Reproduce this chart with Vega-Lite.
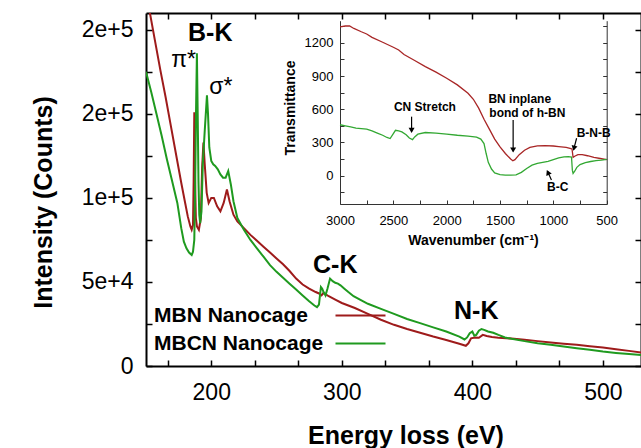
{
"$schema": "https://vega.github.io/schema/vega-lite/v6.json",
"width": 495, "height": 353,
"autosize": {"type": "none"},
"padding": {"left": 146, "top": 13, "right": 0, "bottom": 82},
"background": "white",
"config": {"font": "Liberation Sans", "view": {"stroke": null}, "axis": {"grid": false, "domainColor": "black", "tickColor": "black", "labelColor": "black", "titleColor": "black", "labelFlush": false, "labelOverlap": false}},
"resolve": {"scale": {"x": "independent", "y": "independent", "color": "independent"}, "axis": {"x": "independent", "y": "independent"}},
"layer": [
{
"data": {"values": [
{"s":"MBN Nanocage","E":150,"I":223000},{"s":"MBN Nanocage","E":153,"I":210000},{"s":"MBN Nanocage","E":157,"I":193000},{"s":"MBN Nanocage","E":161,"I":176000},{"s":"MBN Nanocage","E":165,"I":160000},{"s":"MBN Nanocage","E":169,"I":143000},{"s":"MBN Nanocage","E":173,"I":126000},{"s":"MBN Nanocage","E":177,"I":109000},{"s":"MBN Nanocage","E":180,"I":97000},{"s":"MBN Nanocage","E":182,"I":89000},{"s":"MBN Nanocage","E":184,"I":83000},{"s":"MBN Nanocage","E":185,"I":81000},{"s":"MBN Nanocage","E":186,"I":84000},{"s":"MBN Nanocage","E":186.5,"I":110000},{"s":"MBN Nanocage","E":187,"I":151000},{"s":"MBN Nanocage","E":187.6,"I":110000},{"s":"MBN Nanocage","E":188.2,"I":88000},{"s":"MBN Nanocage","E":189,"I":83000},{"s":"MBN Nanocage","E":190.5,"I":81000},{"s":"MBN Nanocage","E":192,"I":88000},{"s":"MBN Nanocage","E":193,"I":118000},{"s":"MBN Nanocage","E":194,"I":133000},{"s":"MBN Nanocage","E":195,"I":120000},{"s":"MBN Nanocage","E":196.5,"I":103000},{"s":"MBN Nanocage","E":198,"I":97000},{"s":"MBN Nanocage","E":200,"I":100000},{"s":"MBN Nanocage","E":202,"I":100000},{"s":"MBN Nanocage","E":204.5,"I":95000},{"s":"MBN Nanocage","E":207,"I":92000},{"s":"MBN Nanocage","E":209.5,"I":97000},{"s":"MBN Nanocage","E":212,"I":105000},{"s":"MBN Nanocage","E":214,"I":98000},{"s":"MBN Nanocage","E":217,"I":90000},{"s":"MBN Nanocage","E":220,"I":86000},{"s":"MBN Nanocage","E":225,"I":82000},{"s":"MBN Nanocage","E":230,"I":78000},{"s":"MBN Nanocage","E":235,"I":74500},{"s":"MBN Nanocage","E":240,"I":71000},{"s":"MBN Nanocage","E":245,"I":67500},{"s":"MBN Nanocage","E":250,"I":64000},{"s":"MBN Nanocage","E":255,"I":60500},{"s":"MBN Nanocage","E":260,"I":56500},{"s":"MBN Nanocage","E":265,"I":52000},{"s":"MBN Nanocage","E":270,"I":48500},{"s":"MBN Nanocage","E":275,"I":46000},{"s":"MBN Nanocage","E":280,"I":44000},{"s":"MBN Nanocage","E":283,"I":43000},{"s":"MBN Nanocage","E":284.5,"I":42000},{"s":"MBN Nanocage","E":286,"I":43500},{"s":"MBN Nanocage","E":290,"I":41500},{"s":"MBN Nanocage","E":295,"I":39500},{"s":"MBN Nanocage","E":300,"I":37500},{"s":"MBN Nanocage","E":310,"I":34500},{"s":"MBN Nanocage","E":320,"I":31000},{"s":"MBN Nanocage","E":330,"I":27500},{"s":"MBN Nanocage","E":340,"I":24500},{"s":"MBN Nanocage","E":350,"I":22000},{"s":"MBN Nanocage","E":360,"I":19800},{"s":"MBN Nanocage","E":370,"I":17500},{"s":"MBN Nanocage","E":380,"I":15500},{"s":"MBN Nanocage","E":390,"I":13200},{"s":"MBN Nanocage","E":395,"I":12000},{"s":"MBN Nanocage","E":397,"I":13500},{"s":"MBN Nanocage","E":399,"I":16500},{"s":"MBN Nanocage","E":402,"I":17000},{"s":"MBN Nanocage","E":405,"I":16800},{"s":"MBN Nanocage","E":408,"I":18500},{"s":"MBN Nanocage","E":411,"I":17800},{"s":"MBN Nanocage","E":415,"I":17200},{"s":"MBN Nanocage","E":420,"I":16800},{"s":"MBN Nanocage","E":430,"I":16300},{"s":"MBN Nanocage","E":440,"I":15600},{"s":"MBN Nanocage","E":450,"I":14800},{"s":"MBN Nanocage","E":460,"I":14000},{"s":"MBN Nanocage","E":470,"I":13300},{"s":"MBN Nanocage","E":480,"I":12600},{"s":"MBN Nanocage","E":490,"I":11800},{"s":"MBN Nanocage","E":500,"I":11000},{"s":"MBN Nanocage","E":510,"I":10000},{"s":"MBN Nanocage","E":520,"I":9000},{"s":"MBN Nanocage","E":530,"I":8000},
{"s":"MBCN Nanocage","E":150,"I":175000},{"s":"MBCN Nanocage","E":154,"I":163000},{"s":"MBCN Nanocage","E":158,"I":150000},{"s":"MBCN Nanocage","E":162,"I":137000},{"s":"MBCN Nanocage","E":166,"I":123000},{"s":"MBCN Nanocage","E":170,"I":110000},{"s":"MBCN Nanocage","E":174,"I":97000},{"s":"MBCN Nanocage","E":177,"I":82000},{"s":"MBCN Nanocage","E":179,"I":74000},{"s":"MBCN Nanocage","E":181,"I":70000},{"s":"MBCN Nanocage","E":183,"I":67500},{"s":"MBCN Nanocage","E":185,"I":66000},{"s":"MBCN Nanocage","E":186,"I":68000},{"s":"MBCN Nanocage","E":187,"I":75000},{"s":"MBCN Nanocage","E":187.7,"I":110000},{"s":"MBCN Nanocage","E":188.3,"I":150000},{"s":"MBCN Nanocage","E":189,"I":186000},{"s":"MBCN Nanocage","E":189.6,"I":150000},{"s":"MBCN Nanocage","E":190.2,"I":110000},{"s":"MBCN Nanocage","E":190.8,"I":90000},{"s":"MBCN Nanocage","E":191.5,"I":85000},{"s":"MBCN Nanocage","E":192.5,"I":92000},{"s":"MBCN Nanocage","E":193.5,"I":120000},{"s":"MBCN Nanocage","E":195,"I":140000},{"s":"MBCN Nanocage","E":196.7,"I":161000},{"s":"MBCN Nanocage","E":197.5,"I":150000},{"s":"MBCN Nanocage","E":198.5,"I":130000},{"s":"MBCN Nanocage","E":200,"I":122000},{"s":"MBCN Nanocage","E":201.5,"I":120000},{"s":"MBCN Nanocage","E":203,"I":119000},{"s":"MBCN Nanocage","E":205,"I":117000},{"s":"MBCN Nanocage","E":207,"I":114000},{"s":"MBCN Nanocage","E":209,"I":112000},{"s":"MBCN Nanocage","E":211,"I":112000},{"s":"MBCN Nanocage","E":213,"I":116000},{"s":"MBCN Nanocage","E":215,"I":108000},{"s":"MBCN Nanocage","E":217,"I":98000},{"s":"MBCN Nanocage","E":220,"I":88000},{"s":"MBCN Nanocage","E":225,"I":81000},{"s":"MBCN Nanocage","E":230,"I":75000},{"s":"MBCN Nanocage","E":235,"I":70000},{"s":"MBCN Nanocage","E":240,"I":65000},{"s":"MBCN Nanocage","E":245,"I":60000},{"s":"MBCN Nanocage","E":250,"I":56000},{"s":"MBCN Nanocage","E":255,"I":52500},{"s":"MBCN Nanocage","E":260,"I":49000},{"s":"MBCN Nanocage","E":265,"I":45500},{"s":"MBCN Nanocage","E":270,"I":42000},{"s":"MBCN Nanocage","E":275,"I":38500},{"s":"MBCN Nanocage","E":279,"I":36000},{"s":"MBCN Nanocage","E":281,"I":35000},{"s":"MBCN Nanocage","E":282.5,"I":36500},{"s":"MBCN Nanocage","E":284,"I":47000},{"s":"MBCN Nanocage","E":285,"I":46000},{"s":"MBCN Nanocage","E":286,"I":44000},{"s":"MBCN Nanocage","E":287.5,"I":42000},{"s":"MBCN Nanocage","E":289,"I":46000},{"s":"MBCN Nanocage","E":291,"I":52000},{"s":"MBCN Nanocage","E":293,"I":50500},{"s":"MBCN Nanocage","E":295,"I":49500},{"s":"MBCN Nanocage","E":297,"I":49000},{"s":"MBCN Nanocage","E":299,"I":48000},{"s":"MBCN Nanocage","E":302,"I":46000},{"s":"MBCN Nanocage","E":305,"I":44000},{"s":"MBCN Nanocage","E":309,"I":41500},{"s":"MBCN Nanocage","E":315,"I":39000},{"s":"MBCN Nanocage","E":320,"I":37000},{"s":"MBCN Nanocage","E":330,"I":34000},{"s":"MBCN Nanocage","E":340,"I":31000},{"s":"MBCN Nanocage","E":350,"I":28000},{"s":"MBCN Nanocage","E":360,"I":25500},{"s":"MBCN Nanocage","E":370,"I":23000},{"s":"MBCN Nanocage","E":380,"I":20500},{"s":"MBCN Nanocage","E":390,"I":17500},{"s":"MBCN Nanocage","E":394,"I":15800},{"s":"MBCN Nanocage","E":396,"I":17000},{"s":"MBCN Nanocage","E":398,"I":19500},{"s":"MBCN Nanocage","E":400,"I":20500},{"s":"MBCN Nanocage","E":401.5,"I":18000},{"s":"MBCN Nanocage","E":403,"I":18500},{"s":"MBCN Nanocage","E":405,"I":21000},{"s":"MBCN Nanocage","E":407,"I":22000},{"s":"MBCN Nanocage","E":409,"I":21500},{"s":"MBCN Nanocage","E":412,"I":20500},{"s":"MBCN Nanocage","E":416,"I":19800},{"s":"MBCN Nanocage","E":420,"I":18500},{"s":"MBCN Nanocage","E":425,"I":17000},{"s":"MBCN Nanocage","E":430,"I":16200},{"s":"MBCN Nanocage","E":440,"I":14800},{"s":"MBCN Nanocage","E":450,"I":13600},{"s":"MBCN Nanocage","E":460,"I":12600},{"s":"MBCN Nanocage","E":470,"I":11600},{"s":"MBCN Nanocage","E":480,"I":10600},{"s":"MBCN Nanocage","E":490,"I":9600},{"s":"MBCN Nanocage","E":500,"I":8600},{"s":"MBCN Nanocage","E":510,"I":7800},{"s":"MBCN Nanocage","E":520,"I":7100},{"s":"MBCN Nanocage","E":530,"I":6500}
]},
"mark": {"type": "line", "clip": true, "strokeWidth": 2},
"encoding": {
"x": {"field": "E", "type": "quantitative", "scale": {"domain": [150, 529.2], "nice": false, "zero": false},
 "axis": {"orient": "bottom", "values": [166.6667, 200, 233.3333, 266.6667, 300, 333.3333, 366.6667, 400, 433.3333, 466.6667, 500], "labelExpr": "datum.value % 100 == 0 ? format(datum.value, 'd') : ''", "tickSize": -6, "tickWidth": 1.5, "domainWidth": 2, "labelFontSize": 23, "labelPadding": 21, "labelBaseline": "top", "title": "Energy loss (eV)", "titleFontSize": 25, "titleFontWeight": "bold", "titleX": 259.5, "titleY": 77, "titleBaseline": "alphabetic"}},
"y": {"field": "I", "type": "quantitative", "scale": {"domain": [0, 210000], "nice": false},
 "axis": {"orient": "left", "values": [0, 25000, 50000, 75000, 100000, 125000, 150000, 175000, 200000], "labelExpr": "datum.value % 50000 == 0 ? (datum.value == 0 ? '0' : format(datum.value, '.0e')) : ''", "tickSize": -6, "tickWidth": 1.5, "domainWidth": 2, "labelFontSize": 23, "labelPadding": 19, "title": "Intensity (Counts)", "titleFontSize": 25, "titleFontWeight": "bold", "titleX": -95, "titleY": 189, "titleBaseline": "alphabetic", "titleAngle": -90}},
"color": {"field": "s", "type": "nominal", "scale": {"domain": ["MBN Nanocage", "MBCN Nanocage"], "range": ["#9e1b1b", "#1f9a1f"]},
 "legend": {"orient": "none", "legendX": 7, "legendY": 292, "title": null, "padding": 0, "labelFontSize": 21, "labelFontWeight": "bold", "labelColor": "black", "labelLimit": 0, "labelBaseline": "middle", "symbolType": "M34.4,0H44.4", "symbolSize": 100, "symbolStrokeWidth": 2, "rowPadding": 6, "labelOffset": -20}}
}
},
{
"data": {"values": [
{"t": "B-K", "E": 199.2, "I": 193600},
{"t": "C-K", "E": 295, "I": 55500},
{"t": "N-K", "E": 403, "I": 27800}
]},
"mark": {"type": "text", "fontSize": 25, "fontWeight": "bold", "baseline": "alphabetic", "align": "center", "color": "black"},
"encoding": {
"x": {"field": "E", "type": "quantitative", "scale": {"domain": [150, 529.2], "nice": false, "zero": false},
 "axis": {"orient": "top", "values": [166.6667, 200, 233.3333, 266.6667, 300, 333.3333, 366.6667, 400, 433.3333, 466.6667, 500], "labels": false, "tickSize": -6, "tickWidth": 1.5, "domainWidth": 2, "title": null}},
"y": {"field": "I", "type": "quantitative", "scale": {"domain": [0, 210000], "nice": false},
 "axis": {"orient": "right", "values": [0, 25000, 50000, 75000, 100000, 125000, 150000, 175000, 200000], "labels": false, "tickSize": -6, "tickWidth": 1.5, "domainWidth": 2, "title": null}},
"text": {"field": "t"}
}
},
{
"data": {"values": [
{"t": "π*", "E": 178.8, "I": 178000},
{"t": "σ*", "E": 207.4, "I": 162000}
]},
"mark": {"type": "text", "fontSize": 23, "baseline": "alphabetic", "align": "center", "color": "black"},
"encoding": {
"x": {"field": "E", "type": "quantitative", "scale": {"domain": [150, 529.2], "nice": false, "zero": false}, "axis": null},
"y": {"field": "I", "type": "quantitative", "scale": {"domain": [0, 210000], "nice": false}, "axis": null},
"text": {"field": "t"}
}
},
{
"data": {"values": [
{"s":"MBN Nanocage","W":3000,"T":1345},{"s":"MBN Nanocage","W":2950,"T":1352},{"s":"MBN Nanocage","W":2910,"T":1352},{"s":"MBN Nanocage","W":2870,"T":1330},{"s":"MBN Nanocage","W":2800,"T":1300},{"s":"MBN Nanocage","W":2750,"T":1280},{"s":"MBN Nanocage","W":2700,"T":1250},{"s":"MBN Nanocage","W":2600,"T":1205},{"s":"MBN Nanocage","W":2500,"T":1160},{"s":"MBN Nanocage","W":2450,"T":1135},{"s":"MBN Nanocage","W":2400,"T":1095},{"s":"MBN Nanocage","W":2300,"T":1040},{"s":"MBN Nanocage","W":2200,"T":985},{"s":"MBN Nanocage","W":2100,"T":935},{"s":"MBN Nanocage","W":2000,"T":880},{"s":"MBN Nanocage","W":1900,"T":820},{"s":"MBN Nanocage","W":1800,"T":745},{"s":"MBN Nanocage","W":1750,"T":690},{"s":"MBN Nanocage","W":1700,"T":610},{"s":"MBN Nanocage","W":1650,"T":510},{"s":"MBN Nanocage","W":1600,"T":420},{"s":"MBN Nanocage","W":1550,"T":330},{"s":"MBN Nanocage","W":1500,"T":260},{"s":"MBN Nanocage","W":1450,"T":200},{"s":"MBN Nanocage","W":1400,"T":150},{"s":"MBN Nanocage","W":1380,"T":135},{"s":"MBN Nanocage","W":1360,"T":145},{"s":"MBN Nanocage","W":1320,"T":190},{"s":"MBN Nanocage","W":1270,"T":230},{"s":"MBN Nanocage","W":1220,"T":255},{"s":"MBN Nanocage","W":1150,"T":270},{"s":"MBN Nanocage","W":1080,"T":272},{"s":"MBN Nanocage","W":1000,"T":268},{"s":"MBN Nanocage","W":950,"T":262},{"s":"MBN Nanocage","W":880,"T":255},{"s":"MBN Nanocage","W":835,"T":245},{"s":"MBN Nanocage","W":825,"T":240},{"s":"MBN Nanocage","W":815,"T":165},{"s":"MBN Nanocage","W":800,"T":175},{"s":"MBN Nanocage","W":770,"T":190},{"s":"MBN Nanocage","W":730,"T":190},{"s":"MBN Nanocage","W":680,"T":180},{"s":"MBN Nanocage","W":620,"T":165},{"s":"MBN Nanocage","W":560,"T":155},{"s":"MBN Nanocage","W":500,"T":145},
{"s":"MBCN Nanocage","W":3000,"T":460},{"s":"MBCN Nanocage","W":2950,"T":450},{"s":"MBCN Nanocage","W":2900,"T":440},{"s":"MBCN Nanocage","W":2850,"T":430},{"s":"MBCN Nanocage","W":2800,"T":425},{"s":"MBCN Nanocage","W":2750,"T":420},{"s":"MBCN Nanocage","W":2700,"T":405},{"s":"MBCN Nanocage","W":2650,"T":385},{"s":"MBCN Nanocage","W":2600,"T":365},{"s":"MBCN Nanocage","W":2560,"T":345},{"s":"MBCN Nanocage","W":2530,"T":335},{"s":"MBCN Nanocage","W":2500,"T":380},{"s":"MBCN Nanocage","W":2480,"T":410},{"s":"MBCN Nanocage","W":2450,"T":405},{"s":"MBCN Nanocage","W":2420,"T":395},{"s":"MBCN Nanocage","W":2380,"T":370},{"s":"MBCN Nanocage","W":2350,"T":340},{"s":"MBCN Nanocage","W":2320,"T":325},{"s":"MBCN Nanocage","W":2300,"T":350},{"s":"MBCN Nanocage","W":2270,"T":375},{"s":"MBCN Nanocage","W":2200,"T":390},{"s":"MBCN Nanocage","W":2100,"T":385},{"s":"MBCN Nanocage","W":2000,"T":375},{"s":"MBCN Nanocage","W":1900,"T":365},{"s":"MBCN Nanocage","W":1800,"T":358},{"s":"MBCN Nanocage","W":1720,"T":348},{"s":"MBCN Nanocage","W":1680,"T":330},{"s":"MBCN Nanocage","W":1650,"T":290},{"s":"MBCN Nanocage","W":1630,"T":200},{"s":"MBCN Nanocage","W":1610,"T":120},{"s":"MBCN Nanocage","W":1580,"T":60},{"s":"MBCN Nanocage","W":1550,"T":25},{"s":"MBCN Nanocage","W":1500,"T":10},{"s":"MBCN Nanocage","W":1450,"T":5},{"s":"MBCN Nanocage","W":1400,"T":5},{"s":"MBCN Nanocage","W":1350,"T":8},{"s":"MBCN Nanocage","W":1300,"T":30},{"s":"MBCN Nanocage","W":1250,"T":65},{"s":"MBCN Nanocage","W":1200,"T":95},{"s":"MBCN Nanocage","W":1150,"T":110},{"s":"MBCN Nanocage","W":1100,"T":120},{"s":"MBCN Nanocage","W":1050,"T":130},{"s":"MBCN Nanocage","W":1000,"T":145},{"s":"MBCN Nanocage","W":950,"T":160},{"s":"MBCN Nanocage","W":900,"T":170},{"s":"MBCN Nanocage","W":860,"T":172},{"s":"MBCN Nanocage","W":830,"T":168},{"s":"MBCN Nanocage","W":822,"T":50},{"s":"MBCN Nanocage","W":815,"T":20},{"s":"MBCN Nanocage","W":800,"T":40},{"s":"MBCN Nanocage","W":780,"T":75},{"s":"MBCN Nanocage","W":750,"T":100},{"s":"MBCN Nanocage","W":700,"T":118},{"s":"MBCN Nanocage","W":650,"T":128},{"s":"MBCN Nanocage","W":600,"T":135},{"s":"MBCN Nanocage","W":550,"T":140},{"s":"MBCN Nanocage","W":500,"T":148}
]},
"mark": {"type": "line", "strokeWidth": 1.3},
"encoding": {
"x": {"field": "W", "type": "quantitative", "scale": {"domain": [500, 3000], "nice": false, "zero": false, "reverse": true, "range": [194, 460.7]},
 "axis": {"orient": "bottom", "offset": -162, "values": [500, 750, 1000, 1250, 1500, 1750, 2000, 2250, 2500, 2750, 3000], "labelExpr": "datum.value % 500 == 0 ? format(datum.value, 'd') : ''", "tickSize": -4, "domainColor": "#333", "tickColor": "#333", "labelFontSize": 13, "labelPadding": 14, "title": "Wavenumber (cm⁻¹)", "titleFontSize": 14, "titleFontWeight": "bold", "titleX": 327, "titleY": 40, "titleBaseline": "alphabetic"}},
"y": {"field": "T", "type": "quantitative", "scale": {"domain": [-256, 1400], "nice": false, "zero": false, "range": [191, 7.7]},
 "axis": {"orient": "left", "offset": -194, "values": [-150, 0, 150, 300, 450, 600, 750, 900, 1050, 1200, 1350], "labelExpr": "datum.value >= 0 && datum.value % 300 == 0 ? format(datum.value, 'd') : ''", "tickSize": -4, "domainColor": "#333", "tickColor": "#333", "labelFontSize": 13, "labelPadding": 11, "title": "Transmittance", "titleFontSize": 14, "titleFontWeight": "bold", "titleX": -46, "titleY": 94.5, "titleBaseline": "alphabetic", "titleAngle": -90}},
"color": {"field": "s", "type": "nominal", "scale": {"domain": ["MBN Nanocage", "MBCN Nanocage"], "range": ["#a82626", "#33a833"]}, "legend": null}
}
},
{
"data": {"values": [
{"t": "CN Stretch", "W": 2204, "T": 618},
{"t": "BN inplane", "W": 1315, "T": 690},
{"t": "bond of h-BN", "W": 1244, "T": 564},
{"t": "B-N-B", "W": 622, "T": 389},
{"t": "B-C", "W": 959, "T": -99}
]},
"mark": {"type": "text", "fontSize": 12, "fontWeight": "bold", "baseline": "middle", "align": "center", "color": "black"},
"encoding": {
"x": {"field": "W", "type": "quantitative", "scale": {"domain": [500, 3000], "nice": false, "zero": false, "reverse": true, "range": [194, 460.7]}, "axis": null},
"y": {"field": "T", "type": "quantitative", "scale": {"domain": [-256, 1400], "nice": false, "zero": false, "range": [191, 7.7]},
 "axis": {"orient": "right", "offset": -34.3, "values": [-150, 0, 150, 300, 450, 600, 750, 900, 1050, 1200, 1350], "labels": false, "tickSize": -4, "domainColor": "#333", "tickColor": "#333", "title": null}},
"text": {"field": "t"}
}
},
{
"data": {"values": [
{"a": "CN", "W": 2329, "T": 533, "W2": 2329, "T2": 400},
{"a": "BN", "W": 1377, "T": 503, "W2": 1377, "T2": 220},
{"a": "BNB", "W": 782, "T": 338, "W2": 810, "T2": 235},
{"a": "BC", "W": 1018, "T": -39, "W2": 1055, "T2": 40}
]},
"mark": {"type": "rule", "color": "black", "strokeWidth": 1.2},
"encoding": {
"x": {"field": "W", "type": "quantitative", "scale": {"domain": [500, 3000], "nice": false, "zero": false, "reverse": true, "range": [194, 460.7]}, "axis": null},
"x2": {"field": "W2"},
"y": {"field": "T", "type": "quantitative", "scale": {"domain": [-256, 1400], "nice": false, "zero": false, "range": [191, 7.7]}, "axis": null},
"y2": {"field": "T2"}
}
},
{
"data": {"values": [
{"a": "CN", "W": 2329, "T": 410, "ang": 180},
{"a": "BN", "W": 1377, "T": 232, "ang": 180},
{"a": "BNB", "W": 807, "T": 248, "ang": 194},
{"a": "BC", "W": 1051, "T": 29, "ang": -25}
]},
"mark": {"type": "point", "shape": "triangle-up", "filled": true, "color": "black", "size": 36, "opacity": 1},
"encoding": {
"x": {"field": "W", "type": "quantitative", "scale": {"domain": [500, 3000], "nice": false, "zero": false, "reverse": true, "range": [194, 460.7]}, "axis": null},
"y": {"field": "T", "type": "quantitative", "scale": {"domain": [-256, 1400], "nice": false, "zero": false, "range": [191, 7.7]}, "axis": null},
"angle": {"field": "ang", "type": "quantitative", "scale": null}
}
}
]
}
